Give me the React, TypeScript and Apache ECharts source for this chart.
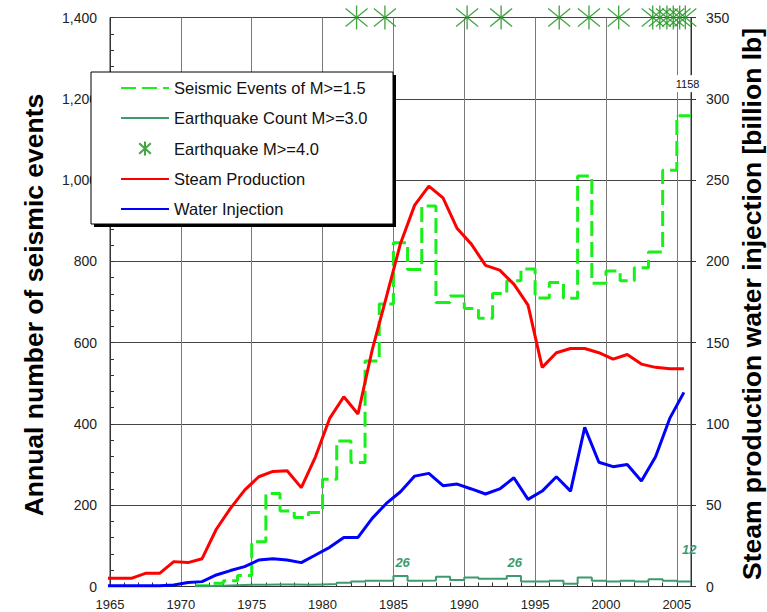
import React, { useEffect, useRef } from "react";
import * as echarts from "echarts";

// Annual seismic events (M>=1.5) at The Geysers, one value per year starting 1971
const seismicStartYear = 1971;
const seismicM15 = [
  2, 8, 14, 27, 110, 229, 186, 170, 182, 264,
  358, 305, 555, 695, 846, 780, 936, 699, 715, 684,
  660, 721, 752, 781, 710, 748, 709, 1010, 746, 776,
  752, 784, 823, 1024, 1158,
];

// Annual earthquake count M>=3.0, same years
const quakeCountM30 = [
  1, 2, 3, 4, 4, 5, 5, 4, 5, 6,
  9, 12, 14, 14, 26, 14, 15, 24, 16, 22,
  19, 19, 26, 12, 12, 14, 7, 22, 14, 12,
  14, 12, 18, 14, 12,
];

// Dates (decimal years) of M>=4.0 earthquakes
const quakeM40Times = [
  1982.4, 1984.4, 1990.2, 1992.6, 1996.7, 1998.8, 2000.9,
  2003.3, 2003.8, 2004.3, 2004.75, 2005.2, 2005.6,
];

// Steam production and water injection [billion lb], plotted at mid-year from 1964.5
const productionStartYear = 1964.5;
const steamProduction = [
  5.0, 5.0, 5.0, 8.1, 8.1, 15.3, 14.7, 17.1, 35.2, 48.1, 59.3,
  67.5, 70.8, 71.2, 60.8, 79.8, 103.4, 116.7, 106.1, 145.4, 178.0,
  211.0, 234.6, 246.3, 239.1, 220.2, 210.6, 197.5, 194.6, 186.0, 173.1,
  134.8, 143.8, 146.4, 146.4, 143.8, 139.9, 142.7, 136.8, 134.8, 134.0, 134.0,
];
const waterInjection = [
  0.4, 0.4, 0.4, 0.4, 0.4, 0.9, 2.4, 3.0, 7.1, 9.8, 12.2,
  16.3, 17.1, 16.3, 14.7, 19.4, 24.1, 30.2, 30.2, 41.9, 51.1,
  58.3, 67.9, 69.6, 62.0, 63.0, 60.0, 56.9, 60.0, 66.9, 53.6,
  58.7, 67.5, 58.7, 97.9, 76.4, 73.7, 75.1, 64.9, 79.8, 103.4, 119.4,
];

const xTickLabels = [1965, 1970, 1975, 1980, 1985, 1990, 1995, 2000, 2005];

const FONT = "'Liberation Sans', Arial, Helvetica, sans-serif";
const SEISMIC_GREEN = "#19f019";
const COUNT_GREEN = "#3c9a6e";
const STAR_GREEN = "#2e9b2e";

type LabelSpec = { year: number; pos: [number, number]; style: Record<string, unknown> };

// Step series: each yearly value holds from the start of the year to the next
function stepData(start: number, values: number[], labels: LabelSpec[]) {
  const pts: any[] = values.map((v, i) => {
    const x = start + i;
    const spec = labels.find((l) => l.year === x);
    if (!spec) return [x, v];
    return {
      value: [x, v],
      symbol: "circle",
      symbolSize: 1,
      label: {
        show: true,
        position: spec.pos,
        align: "center",
        verticalAlign: "middle",
        formatter: (p: any) => String(p.value[1]),
        ...spec.style,
      },
    };
  });
  pts.push([start + values.length, values[values.length - 1]]);
  return pts;
}

function midYearData(start: number, values: number[]) {
  return values.map((v, i) => [start + i, v]);
}

const countLabelStyle = {
  color: COUNT_GREEN,
  fontSize: 13,
  fontWeight: "bold",
  fontStyle: "italic",
  fontFamily: FONT,
};

const STAR_SYMBOL = "path://M11,0L11,24M1,3L21,21M1,21L21,3";

// line-only legend entries: hide the marker ECharts adds on top of the line
const lineOnly = (name: string) => ({ name, itemStyle: { opacity: 0 } });

function buildOption(): echarts.EChartsOption {
  return {
    animation: false,
    backgroundColor: "#ffffff",
    grid: {
      left: 110,
      right: 76,
      top: 17.5,
      bottom: 25.5,
      show: true,
      borderColor: "#333",
      borderWidth: 1,
      backgroundColor: "transparent",
    },
    legend: {
      orient: "vertical",
      left: 120,
      top: 79,
      padding: 0,
      itemWidth: 48,
      itemHeight: 14,
      itemGap: 12,
      selectedMode: false,
      z: 10,
      textStyle: { fontSize: 16.5, color: "#111", fontFamily: FONT, lineHeight: 18 },
      data: [
        lineOnly("Seismic Events of M>=1.5"),
        lineOnly("Earthquake Count M>=3.0"),
        { name: "Earthquake M>=4.0" },
        lineOnly("Steam Production"),
        lineOnly("Water Injection"),
      ],
    },
    xAxis: [
      {
        type: "value",
        min: 1965,
        max: 2006,
        interval: 1,
        position: "bottom",
        axisLine: { show: true, lineStyle: { color: "#333" } },
        axisTick: { show: true, inside: true, length: 4, lineStyle: { color: "#333" } },
        axisLabel: {
          showMaxLabel: false,
          formatter: (v: number) => (xTickLabels.includes(v) ? String(v) : ""),
          fontSize: 13,
          color: "#222",
          fontFamily: FONT,
          margin: 11,
        },
        splitLine: { show: false },
      },
      {
        type: "value",
        min: 1965,
        max: 2006,
        interval: 5,
        position: "top",
        axisLine: { show: false },
        axisTick: { show: false },
        axisLabel: { show: false },
        splitLine: { show: true, lineStyle: { color: "#7a7a7a", width: 1 } },
      },
    ],
    yAxis: [
      {
        type: "value",
        min: 0,
        max: 1400,
        interval: 200,
        position: "left",
        axisLine: { show: true, lineStyle: { color: "#333" } },
        axisTick: { show: true, inside: true, length: 4, lineStyle: { color: "#333" } },
        minorTick: { show: true, splitNumber: 5, length: 4, lineStyle: { color: "#333" } },
        axisLabel: {
          formatter: (v: number) => v.toLocaleString("en-US"),
          fontSize: 14,
          color: "#222",
          fontFamily: FONT,
          margin: 13,
        },
        splitLine: { show: true, lineStyle: { color: "#444", width: 1 } },
      },
      {
        type: "value",
        min: 0,
        max: 350,
        interval: 50,
        position: "right",
        axisLine: { show: true, lineStyle: { color: "#333" } },
        axisTick: { show: true, inside: false, length: 5, lineStyle: { color: "#333" } },
        axisLabel: { fontSize: 14, color: "#222", fontFamily: FONT, margin: 15 },
        splitLine: { show: false },
      },
    ],
    graphic: [
      {
        type: "rect",
        z: 8,
        shape: { x: 94, y: 75, width: 302, height: 152 },
        style: { fill: "#000" },
      },
      {
        type: "rect",
        z: 9,
        shape: { x: 91, y: 72, width: 302, height: 152 },
        style: { fill: "#fff", stroke: "#000", lineWidth: 1 },
      },
      {
        type: "text",
        z: 9,
        x: 34,
        y: 305,
        rotation: Math.PI / 2,
        style: {
          text: "Annual number of seismic events",
          font: `bold 26.5px ${FONT}`,
          fill: "#000",
          align: "center",
          verticalAlign: "middle",
          textAlign: "center",
          textVerticalAlign: "middle",
        },
      },
      {
        type: "text",
        z: 9,
        x: 752,
        y: 304,
        rotation: Math.PI / 2,
        style: {
          text: "Steam production water injection [billion lb]",
          font: `bold 26.5px ${FONT}`,
          fill: "#000",
          align: "center",
          verticalAlign: "middle",
          textAlign: "center",
          textVerticalAlign: "middle",
        },
      },
    ],
    series: [
      {
        name: "Seismic Events of M>=1.5",
        type: "line",
        xAxisIndex: 0,
        yAxisIndex: 0,
        step: "end",
        symbol: "none",
        showSymbol: true,
        data: stepData(seismicStartYear, seismicM15, [
          {
            year: 2005,
            pos: [11.3, -31.7],
            style: {
              color: "#111",
              fontSize: 11,
              fontFamily: FONT,
              backgroundColor: "#fff",
              padding: [3, 1],
            },
          },
        ]),
        lineStyle: { color: SEISMIC_GREEN, width: 3, type: [15, 6] },
        itemStyle: { color: SEISMIC_GREEN },
        z: 2,
      },
      {
        name: "Earthquake Count M>=3.0",
        type: "line",
        xAxisIndex: 0,
        yAxisIndex: 0,
        step: "end",
        symbol: "none",
        showSymbol: true,
        data: stepData(seismicStartYear, quakeCountM30, [
          { year: 1985, pos: [9.7, -13.4], style: countLabelStyle },
          { year: 1993, pos: [8.5, -13.4], style: countLabelStyle },
          { year: 2005, pos: [13, -31.6], style: countLabelStyle },
        ]),
        lineStyle: { color: COUNT_GREEN, width: 2 },
        itemStyle: { color: COUNT_GREEN },
        z: 3,
      },
      {
        name: "Earthquake M>=4.0",
        type: "scatter",
        xAxisIndex: 0,
        yAxisIndex: 0,
        clip: false,
        symbol: STAR_SYMBOL,
        symbolSize: [22, 24],
        data: quakeM40Times.map((t) => [t, 1400]),
        itemStyle: { color: "none", borderColor: STAR_GREEN, borderWidth: 1.4, opacity: 0.9 },
        z: 4,
      },
      {
        name: "Steam Production",
        type: "line",
        xAxisIndex: 0,
        yAxisIndex: 1,
        symbol: "none",
        data: midYearData(productionStartYear, steamProduction),
        lineStyle: { color: "#ff0000", width: 3 },
        itemStyle: { color: "#ff0000" },
        z: 5,
      },
      {
        name: "Water Injection",
        type: "line",
        xAxisIndex: 0,
        yAxisIndex: 1,
        symbol: "none",
        data: midYearData(productionStartYear, waterInjection),
        lineStyle: { color: "#0000ff", width: 3 },
        itemStyle: { color: "#0000ff" },
        z: 6,
      },
    ],
  };
}

export default function App() {
  const ref = useRef<HTMLDivElement>(null);
  useEffect(() => {
    if (!ref.current) return;
    const chart = echarts.init(ref.current, null, { renderer: "svg" });
    chart.setOption(buildOption());
    return () => chart.dispose();
  }, []);
  return (
    <div
      ref={ref}
      style={{ position: "fixed", left: 0, top: 0, width: 767, height: 612, background: "#fff" }}
    />
  );
}
